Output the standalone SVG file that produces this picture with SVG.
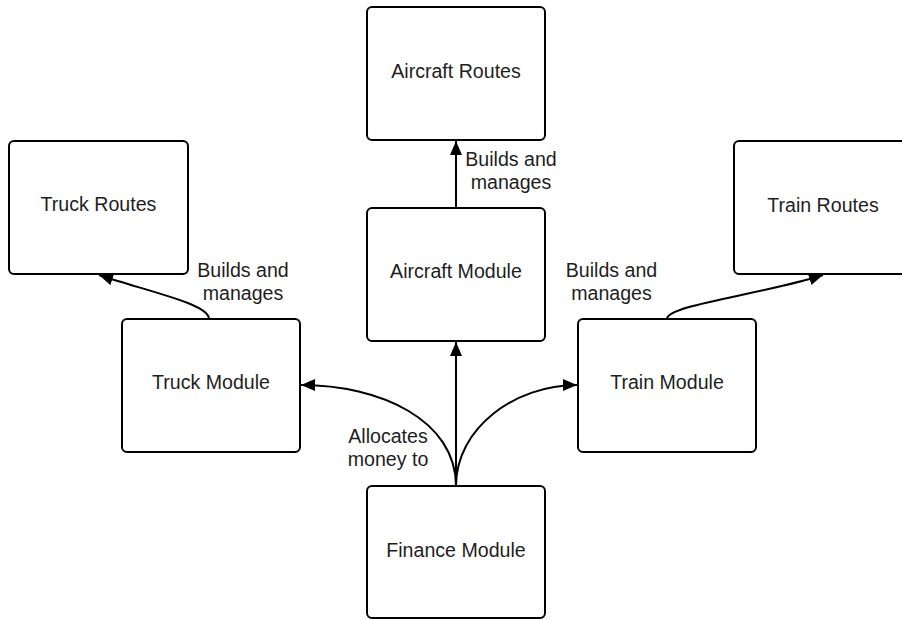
<svg xmlns="http://www.w3.org/2000/svg" width="902" height="620" viewBox="0 0 902 620">
<style>
.box{fill:#fff;stroke:#000;stroke-width:2}
.t{font-family:"Liberation Sans",Arial,sans-serif;font-size:19.6px;fill:#1e1e1e;text-anchor:middle}
.c{fill:none;stroke:#000;stroke-width:2}
</style>
<defs>
<marker id="ah" markerUnits="userSpaceOnUse" markerWidth="16" markerHeight="14" refX="14" refY="6" orient="auto">
<path d="M0,0 L14,6 L0,12 z" fill="#000"/>
</marker>
</defs>
<rect width="902" height="620" fill="#fff"/>
<g id="connectors">
<path class="c" d="M456,208 L456,141" marker-end="url(#ah)"/>
<path class="c" d="M456,486 L456,342" marker-end="url(#ah)"/>
<path class="c" d="M456,486 C456,420 380,385 301,385" marker-end="url(#ah)"/>
<path class="c" d="M456,486 C456,428 515,385 577,385" marker-end="url(#ah)"/>
<path class="c" d="M209,319 C209,304 150,292 99,275" marker-end="url(#ah)"/>
<path class="c" d="M667,319 C667,305 760,295 823,275" marker-end="url(#ah)"/>
<text class="t" x="511" y="166">Builds and</text>
<text class="t" x="511" y="188.5">manages</text>
<text class="t" x="243" y="277">Builds and</text>
<text class="t" x="243" y="300">manages</text>
<text class="t" x="611.5" y="277">Builds and</text>
<text class="t" x="611.5" y="300">manages</text>
<text class="t" x="388" y="443">Allocates</text>
<text class="t" x="388" y="466">money to</text>
</g>
<g id="aircraft-routes">
<rect class="box" x="367" y="7" width="178" height="133" rx="5"/>
<text class="t" x="456" y="78">Aircraft Routes</text>
</g>
<g id="truck-routes">
<rect class="box" x="9" y="141" width="179" height="133" rx="5"/>
<text class="t" x="98.5" y="211">Truck Routes</text>
</g>
<g id="train-routes">
<rect class="box" x="734" y="141" width="178" height="133" rx="5"/>
<text class="t" x="823" y="212">Train Routes</text>
</g>
<g id="aircraft-module">
<rect class="box" x="367" y="208" width="178" height="133" rx="5"/>
<text class="t" x="456" y="278">Aircraft Module</text>
</g>
<g id="truck-module">
<rect class="box" x="122" y="319" width="178" height="133" rx="5"/>
<text class="t" x="211" y="389">Truck Module</text>
</g>
<g id="train-module">
<rect class="box" x="578" y="319" width="178" height="133" rx="5"/>
<text class="t" x="667" y="389">Train Module</text>
</g>
<g id="finance-module">
<rect class="box" x="367" y="486" width="178" height="132" rx="5"/>
<text class="t" x="456" y="557">Finance Module</text>
</g>
</svg>
